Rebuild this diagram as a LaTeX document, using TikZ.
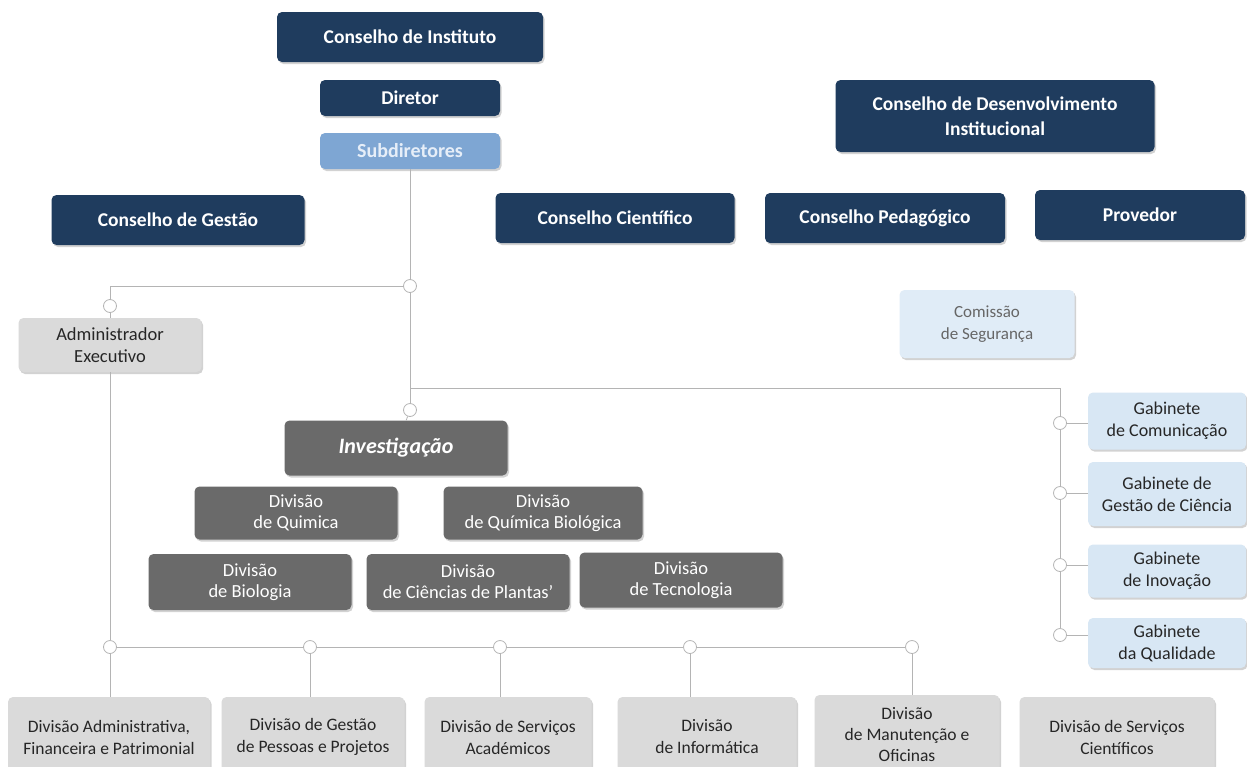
\documentclass[tikz,border=0pt]{standalone}
\usepackage{fontspec}
\setmainfont{Carlito}
\usetikzlibrary{shadows}
\definecolor{navy}{HTML}{1F3C5E}
\definecolor{subblue}{HTML}{7EA6D3}
\definecolor{subtext}{HTML}{E6EEF8}
\definecolor{dgray}{HTML}{6A6A6A}
\definecolor{lgray}{HTML}{DADADA}
\definecolor{comfill}{HTML}{E0ECF7}
\definecolor{gabfill}{HTML}{D8E7F4}
\definecolor{linec}{HTML}{B4B4B4}
\tikzset{
  box/.style={rectangle, rounded corners=5pt, align=center, inner sep=2pt,
    drop shadow={shadow xshift=1.5pt, shadow yshift=-2pt, opacity=0.35}},
  navybox/.style={box, fill=navy, text=white, font=\fontsize{19.5}{25}\selectfont\bfseries},
  subbox/.style={box, fill=subblue, text=subtext, font=\fontsize{20}{24}\selectfont\bfseries},
  invbox/.style={box, fill=dgray, text=white, font=\fontsize{22}{26}\selectfont\bfseries\itshape},
  divbox/.style={box, fill=dgray, text=white, font=\fontsize{18.5}{21}\selectfont},
  admbox/.style={box, fill=lgray, text=black!85, font=\fontsize{18.5}{22}\selectfont},
  botbox/.style={box, fill=lgray, text=black!85, font=\fontsize{17.5}{22}\selectfont},
  botboxm/.style={box, fill=lgray, text=black!85, font=\fontsize{17.5}{21}\selectfont},
  combox/.style={box, fill=comfill, text=black!60, font=\fontsize{17}{22}\selectfont},
  gabbox/.style={box, fill=gabfill, text=black!85, font=\fontsize{18}{22}\selectfont},
  dot/.style={circle, draw=linec, fill=white, line width=0.8pt, minimum size=13pt, inner sep=0pt},
  conn/.style={draw=linec, line width=0.8pt}
}
\begin{document}
\begin{tikzpicture}[x=1pt,y=-1pt]
\useasboundingbox[fill=white] (0,0) rectangle (1247,766);

% top navy
\node[navybox, minimum width=266, minimum height=50] (ci) at (410,37) {Conselho de Instituto};
\node[navybox, minimum width=180, minimum height=36] (dir) at (410,98) {Diretor};
\node[subbox, minimum width=180, minimum height=36] (sub) at (410,151) {Subdiretores};
\node[navybox, minimum width=319, minimum height=72] (cdi) at (995,116) {Conselho de Desenvolvimento\\Institucional};
\node[navybox, minimum width=253, minimum height=50] (cg) at (178,220) {Conselho de Gestão};
\node[navybox, minimum width=239, minimum height=50] (cc) at (615,218) {Conselho Científico};
\node[navybox, minimum width=240, minimum height=50] (cp) at (885,218) {Conselho Pedagógico};
\node[navybox, minimum width=210, minimum height=50] (prov) at (1140,215) {Provedor};

% admin
\node[admbox, minimum width=183, minimum height=54] (adm) at (110,345) {Administrador\\Executivo};
\node[combox, minimum width=175, minimum height=68] (com) at (987,324) {Comissão\\de Segurança};

% investigacao
\node[invbox, minimum width=223, minimum height=55] (inv) at (396,448) {Investigação};
\node[divbox, minimum width=203, minimum height=53] (dq) at (296,513) {Divisão\\de Quimica};
\node[divbox, minimum width=199, minimum height=53] (dqb) at (543,513) {Divisão\\de Química Biológica};
\node[divbox, minimum width=203, minimum height=56] (db) at (250,582) {Divisão\\de Biologia};
\node[divbox, minimum width=203, minimum height=56] (dcp) at (468,582) {Divisão\\de Ciências de Plantas'};
\node[divbox, minimum width=203, minimum height=55] (dt) at (681,580) {Divisão\\de Tecnologia};

% gabinetes
\node[gabbox, minimum width=158, minimum height=57] (g1) at (1167,421) {Gabinete\\de Comunicação};
\node[gabbox, minimum width=158, minimum height=64] (g2) at (1167,494) {Gabinete de\\Gestão de Ciência};
\node[gabbox, minimum width=158, minimum height=53] (g3) at (1167,571) {Gabinete\\de Inovação};
\node[gabbox, minimum width=158, minimum height=50] (g4) at (1167,643) {Gabinete\\da Qualidade};

% bottom row
\node[botbox, minimum width=202, minimum height=80] (d1) at (109,737) {Divisão Administrativa,\\Financeira e Patrimonial};
\node[botbox, minimum width=183, minimum height=80] (d2) at (313,737) {Divisão de Gestão\\de Pessoas e Projetos};
\node[botbox, minimum width=167, minimum height=80] (d3) at (508,737) {Divisão de Serviços\\Académicos};
\node[botbox, minimum width=179, minimum height=80] (d4) at (707,737) {Divisão\\de Informática};
\node[botboxm, minimum width=185, minimum height=80] (d5) at (907,735) {Divisão\\de Manutenção e\\Oficinas};
\node[botbox, minimum width=195, minimum height=80] (d6) at (1117,737) {Divisão de Serviços\\Científicos};

% connector dots
\node[dot] (c1) at (410,286) {};
\node[dot] (cA) at (110,306) {};
\node[dot] (cI) at (410,410) {};
\coordinate (j1) at (410,388);
\coordinate (j2) at (1060,388);
\node[dot] (gc1) at (1060,423) {};
\node[dot] (gc2) at (1060,493) {};
\node[dot] (gc3) at (1060,565) {};
\node[dot] (gc4) at (1060,635) {};
\node[dot] (b1) at (110,647) {};
\node[dot] (b2) at (310,647) {};
\node[dot] (b3) at (500,647) {};
\node[dot] (b4) at (690,647) {};
\node[dot] (b5) at (912,647) {};

% connectors
\draw[conn] (sub) -- (c1);
\draw[conn] (c1) -| (cA);
\draw[conn] (cA) -- (adm);
\draw[conn] (c1) -- (cI);
\draw[conn] (cI) -- (inv);
\draw[conn] (j1) -- (j2) -- (gc1);
\draw[conn] (gc1) -- (gc2);
\draw[conn] (gc2) -- (gc3);
\draw[conn] (gc3) -- (gc4);
\draw[conn] (gc1) -- (gc1 -| g1.west);
\draw[conn] (gc2) -- (gc2 -| g2.west);
\draw[conn] (gc3) -- (gc3 -| g3.west);
\draw[conn] (gc4) -- (gc4 -| g4.west);
\draw[conn] (adm) -- (b1);
\draw[conn] (b1) -- (b2);
\draw[conn] (b2) -- (b3);
\draw[conn] (b3) -- (b4);
\draw[conn] (b4) -- (b5);
\draw[conn] (b1) -- (b1 |- d1.north);
\draw[conn] (b2) -- (b2 |- d2.north);
\draw[conn] (b3) -- (b3 |- d3.north);
\draw[conn] (b4) -- (b4 |- d4.north);
\draw[conn] (b5) -- (b5 |- d5.north);
\end{tikzpicture}
\end{document}
